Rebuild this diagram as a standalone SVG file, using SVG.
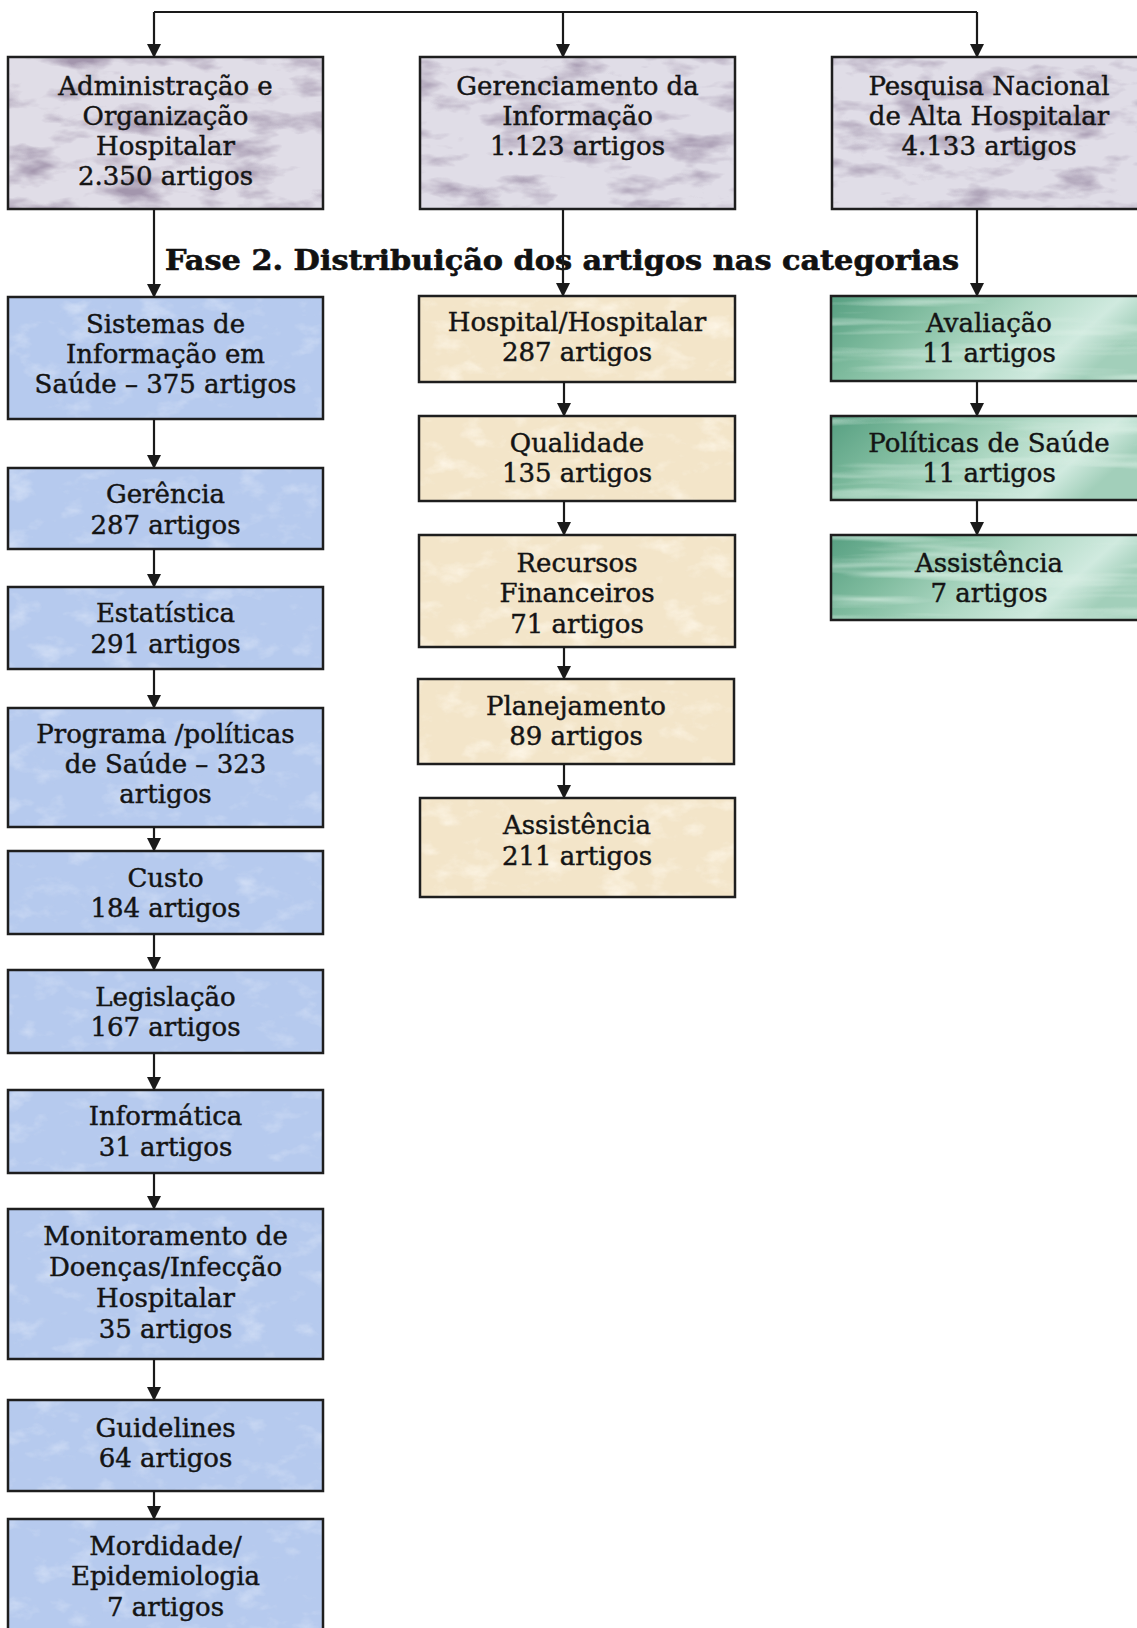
<svg xmlns="http://www.w3.org/2000/svg" width="1137" height="1628" viewBox="0 0 1137 1628">
<style>
.box{stroke:none}
.border{fill:none;stroke:#1e1e1e;stroke-width:2.5}
.t{font-family:"DejaVu Serif","Liberation Serif",serif;font-size:26px;fill:#141414;stroke:#141414;stroke-width:0.45;text-anchor:middle}
.title{font-family:"DejaVu Serif","Liberation Serif",serif;font-size:27px;font-weight:bold;fill:#111;stroke:#111;stroke-width:0.6;text-anchor:middle}
.top{fill:#e0dde7;filter:url(#fTop)}
.blue{fill:#b6caee;filter:url(#fBlue)}
.beige{fill:#f3e5c9;filter:url(#fBeige)}
.green{fill:url(#gGreen);filter:url(#fGreen)}
.conn line,.conn path{stroke:#1a1a1a;stroke-width:2.2;fill:none}
.arr{marker-end:url(#ah)}
</style>
<defs>
<marker id="ah" viewBox="0 0 14 14" refX="13" refY="7" markerWidth="15" markerHeight="14" markerUnits="userSpaceOnUse" orient="auto">
<path d="M0,0 L14,7 L0,14 z" fill="#1a1a1a"/>
</marker>
<linearGradient id="gGreen" x1="0" y1="0" x2="1" y2="0.3">
<stop offset="0" stop-color="#569f81"/>
<stop offset="0.3" stop-color="#80bc9f"/>
<stop offset="0.6" stop-color="#b0d9c5"/>
<stop offset="0.85" stop-color="#d0eadf"/>
<stop offset="1" stop-color="#a2cfba"/>
</linearGradient>
<filter id="fTop" x="0" y="0" width="1" height="1" color-interpolation-filters="sRGB">
<feTurbulence type="fractalNoise" baseFrequency="0.018 0.045" numOctaves="4" seed="7" result="n"/>
<feColorMatrix in="n" type="matrix" values="0 0 0 0 0.64  0 0 0 0 0.59  0 0 0 0 0.68  0 0 -2.6 0 1.32" result="s"/>
<feComposite in="s" in2="SourceGraphic" operator="in" result="sc"/>
<feMerge><feMergeNode in="SourceGraphic"/><feMergeNode in="sc"/></feMerge>
</filter>
<filter id="fBlue" x="0" y="0" width="1" height="1" color-interpolation-filters="sRGB">
<feTurbulence type="fractalNoise" baseFrequency="0.03 0.05" numOctaves="4" seed="11" result="n"/>
<feColorMatrix in="n" type="matrix" values="0 0 0 0 0.82  0 0 0 0 0.87  0 0 0 0 0.96  0 0 2.5 0 -1.35" result="s"/>
<feComposite in="s" in2="SourceGraphic" operator="in" result="sc"/>
<feMerge><feMergeNode in="SourceGraphic"/><feMergeNode in="sc"/></feMerge>
</filter>
<filter id="fBeige" x="0" y="0" width="1" height="1" color-interpolation-filters="sRGB">
<feTurbulence type="fractalNoise" baseFrequency="0.03 0.05" numOctaves="4" seed="5" result="n"/>
<feColorMatrix in="n" type="matrix" values="0 0 0 0 0.99  0 0 0 0 0.96  0 0 0 0 0.90  0 0 2.5 0 -1.3" result="s"/>
<feComposite in="s" in2="SourceGraphic" operator="in" result="sc"/>
<feMerge><feMergeNode in="SourceGraphic"/><feMergeNode in="sc"/></feMerge>
</filter>
<filter id="fGreen" x="0" y="0" width="1" height="1" color-interpolation-filters="sRGB">
<feTurbulence type="fractalNoise" baseFrequency="0.005 0.07" numOctaves="3" seed="2" result="n"/>
<feColorMatrix in="n" type="matrix" values="0 0 0 0 0.86  0 0 0 0 0.94  0 0 0 0 0.90  2 0 0 0 -1.05" result="s"/>
<feComposite in="s" in2="SourceGraphic" operator="in" result="sc"/>
<feMerge><feMergeNode in="SourceGraphic"/><feMergeNode in="sc"/></feMerge>
</filter>
</defs>
<rect x="0" y="0" width="1137" height="1628" fill="#ffffff"/>

<!-- Top row -->
<g id="admin">
<rect class="box top" x="8" y="57" width="315" height="152"/>
<rect class="border" x="8" y="57" width="315" height="152"/>
<text class="t" x="165.5" y="95">Administração e</text>
<text class="t" x="165.5" y="125">Organização</text>
<text class="t" x="165.5" y="155">Hospitalar</text>
<text class="t" x="165.5" y="185">2.350 artigos</text>
</g>
<g id="gerenciamento">
<rect class="box top" x="420" y="57" width="315" height="152"/>
<rect class="border" x="420" y="57" width="315" height="152"/>
<text class="t" x="577.5" y="95">Gerenciamento da</text>
<text class="t" x="577.5" y="125">Informação</text>
<text class="t" x="577.5" y="155">1.123 artigos</text>
</g>
<g id="pesquisa">
<rect class="box top" x="832" y="57" width="315" height="152"/>
<rect class="border" x="832" y="57" width="315" height="152"/>
<text class="t" x="989" y="95">Pesquisa Nacional</text>
<text class="t" x="989" y="125">de Alta Hospitalar</text>
<text class="t" x="989" y="155">4.133 artigos</text>
</g>

<text id="titulo" class="title" x="562" y="270" textLength="794" lengthAdjust="spacingAndGlyphs">Fase 2. Distribuição dos artigos nas categorias</text>

<!-- Left column -->
<g id="sistemas">
<rect class="box blue" x="8" y="297" width="315" height="122"/>
<rect class="border" x="8" y="297" width="315" height="122"/>
<text class="t" x="165.5" y="333">Sistemas de</text>
<text class="t" x="165.5" y="363">Informação em</text>
<text class="t" x="165.5" y="393">Saúde – 375 artigos</text>
</g>
<g id="gerencia">
<rect class="box blue" x="8" y="468" width="315" height="81"/>
<rect class="border" x="8" y="468" width="315" height="81"/>
<text class="t" x="165.5" y="503">Gerência</text>
<text class="t" x="165.5" y="534">287 artigos</text>
</g>
<g id="estatistica">
<rect class="box blue" x="8" y="587" width="315" height="82"/>
<rect class="border" x="8" y="587" width="315" height="82"/>
<text class="t" x="165.5" y="622">Estatística</text>
<text class="t" x="165.5" y="653">291 artigos</text>
</g>
<g id="programa">
<rect class="box blue" x="8" y="708" width="315" height="119"/>
<rect class="border" x="8" y="708" width="315" height="119"/>
<text class="t" x="165.5" y="743">Programa /políticas</text>
<text class="t" x="165.5" y="773">de Saúde – 323</text>
<text class="t" x="165.5" y="803">artigos</text>
</g>
<g id="custo">
<rect class="box blue" x="8" y="851" width="315" height="83"/>
<rect class="border" x="8" y="851" width="315" height="83"/>
<text class="t" x="165.5" y="887">Custo</text>
<text class="t" x="165.5" y="917">184 artigos</text>
</g>
<g id="legislacao">
<rect class="box blue" x="8" y="970" width="315" height="83"/>
<rect class="border" x="8" y="970" width="315" height="83"/>
<text class="t" x="165.5" y="1006">Legislação</text>
<text class="t" x="165.5" y="1036">167 artigos</text>
</g>
<g id="informatica">
<rect class="box blue" x="8" y="1090" width="315" height="83"/>
<rect class="border" x="8" y="1090" width="315" height="83"/>
<text class="t" x="165.5" y="1125">Informática</text>
<text class="t" x="165.5" y="1156">31 artigos</text>
</g>
<g id="monitoramento">
<rect class="box blue" x="8" y="1209" width="315" height="150"/>
<rect class="border" x="8" y="1209" width="315" height="150"/>
<text class="t" x="165.5" y="1245">Monitoramento de</text>
<text class="t" x="165.5" y="1276">Doenças/Infecção</text>
<text class="t" x="165.5" y="1307">Hospitalar</text>
<text class="t" x="165.5" y="1338">35 artigos</text>
</g>
<g id="guidelines">
<rect class="box blue" x="8" y="1400" width="315" height="91"/>
<rect class="border" x="8" y="1400" width="315" height="91"/>
<text class="t" x="165.5" y="1437">Guidelines</text>
<text class="t" x="165.5" y="1467">64 artigos</text>
</g>
<g id="mordidade">
<rect class="box blue" x="8" y="1519" width="315" height="130"/>
<rect class="border" x="8" y="1519" width="315" height="130"/>
<text class="t" x="165.5" y="1555">Mordidade/</text>
<text class="t" x="165.5" y="1585">Epidemiologia</text>
<text class="t" x="165.5" y="1616">7 artigos</text>
</g>

<!-- Middle column -->
<g id="hospital">
<rect class="box beige" x="419" y="296" width="316" height="86"/>
<rect class="border" x="419" y="296" width="316" height="86"/>
<text class="t" x="577" y="331">Hospital/Hospitalar</text>
<text class="t" x="577" y="361">287 artigos</text>
</g>
<g id="qualidade">
<rect class="box beige" x="419" y="416" width="316" height="85"/>
<rect class="border" x="419" y="416" width="316" height="85"/>
<text class="t" x="577" y="452">Qualidade</text>
<text class="t" x="577" y="482">135 artigos</text>
</g>
<g id="recursos">
<rect class="box beige" x="419" y="535" width="316" height="112"/>
<rect class="border" x="419" y="535" width="316" height="112"/>
<text class="t" x="577" y="572">Recursos</text>
<text class="t" x="577" y="602">Financeiros</text>
<text class="t" x="577" y="633">71 artigos</text>
</g>
<g id="planejamento">
<rect class="box beige" x="418" y="679" width="316" height="85"/>
<rect class="border" x="418" y="679" width="316" height="85"/>
<text class="t" x="576" y="715">Planejamento</text>
<text class="t" x="576" y="745">89 artigos</text>
</g>
<g id="assistencia-m">
<rect class="box beige" x="420" y="798" width="315" height="99"/>
<rect class="border" x="420" y="798" width="315" height="99"/>
<text class="t" x="577" y="834">Assistência</text>
<text class="t" x="577" y="865">211 artigos</text>
</g>

<!-- Right column -->
<g id="avaliacao">
<rect class="box green" x="831" y="296" width="316" height="85"/>
<rect class="border" x="831" y="296" width="316" height="85"/>
<text class="t" x="989" y="332">Avaliação</text>
<text class="t" x="989" y="362">11 artigos</text>
</g>
<g id="politicas">
<rect class="box green" x="831" y="416" width="316" height="84"/>
<rect class="border" x="831" y="416" width="316" height="84"/>
<text class="t" x="989" y="452">Políticas de Saúde</text>
<text class="t" x="989" y="482">11 artigos</text>
</g>
<g id="assistencia-r">
<rect class="box green" x="831" y="535" width="316" height="85"/>
<rect class="border" x="831" y="535" width="316" height="85"/>
<text class="t" x="989" y="572">Assistência</text>
<text class="t" x="989" y="602">7 artigos</text>
</g>

<!-- Connectors -->
<g id="connectors" class="conn">
<line x1="154" y1="12" x2="977" y2="12"/>
<line class="arr" x1="154" y1="12" x2="154" y2="57"/>
<line class="arr" x1="563" y1="12" x2="563" y2="57"/>
<line class="arr" x1="977" y1="12" x2="977" y2="57"/>
<line class="arr" x1="154" y1="209" x2="154" y2="297"/>
<line class="arr" x1="563" y1="209" x2="563" y2="296"/>
<line class="arr" x1="977" y1="209" x2="977" y2="296"/>
<line class="arr" x1="154" y1="419" x2="154" y2="468"/>
<line class="arr" x1="154" y1="549" x2="154" y2="587"/>
<line class="arr" x1="154" y1="669" x2="154" y2="708"/>
<line class="arr" x1="154" y1="827" x2="154" y2="851"/>
<line class="arr" x1="154" y1="934" x2="154" y2="970"/>
<line class="arr" x1="154" y1="1053" x2="154" y2="1090"/>
<line class="arr" x1="154" y1="1173" x2="154" y2="1209"/>
<line class="arr" x1="154" y1="1359" x2="154" y2="1400"/>
<line class="arr" x1="154" y1="1491" x2="154" y2="1519"/>
<line class="arr" x1="564" y1="382" x2="564" y2="416"/>
<line class="arr" x1="564" y1="501" x2="564" y2="535"/>
<line class="arr" x1="564" y1="647" x2="564" y2="679"/>
<line class="arr" x1="564" y1="764" x2="564" y2="798"/>
<line class="arr" x1="977" y1="381" x2="977" y2="416"/>
<line class="arr" x1="977" y1="500" x2="977" y2="535"/>
</g>
</svg>
